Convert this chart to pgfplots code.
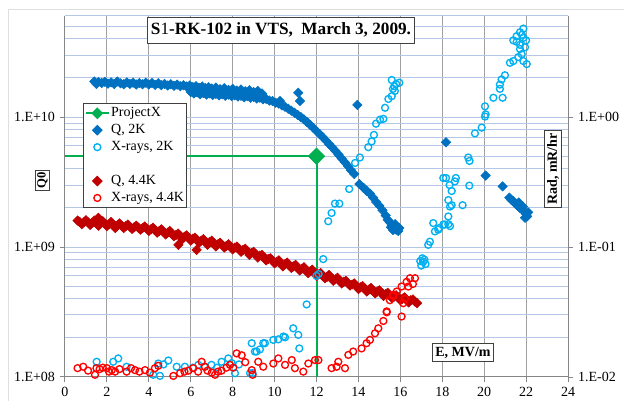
\documentclass[border=0pt]{standalone}
\usepackage{pgfplots}
\pgfplotsset{compat=1.18}
\usepackage{fontspec}
\setmainfont{Liberation Serif}
\definecolor{qtwo}{RGB}{0,112,192}
\definecolor{xtwo}{RGB}{0,176,240}
\definecolor{qfour}{RGB}{192,0,0}
\definecolor{xfour}{RGB}{255,0,0}
\definecolor{pxgreen}{RGB}{0,176,80}
\definecolor{gridblue}{RGB}{180,199,231}
\definecolor{gridgray}{RGB}{160,160,160}
\definecolor{axgray}{RGB}{134,134,134}
\definecolor{boxgray}{RGB}{64,64,64}
\tikzset{
  diam/.style={only marks, mark=square*, mark size=2.5pt, color=#1, mark options={rotate=45, fill=#1, draw=#1}},
  circ/.style={only marks, mark=o, mark size=2.6pt, color=#1, mark options={line width=1pt, draw=#1}},
}
\begin{document}
\begin{tikzpicture}
\useasboundingbox (-48.75pt,-18pt) rectangle (419.25pt,282.75pt);
\draw[gray!25, line width=0.75pt] (-42pt,-18pt) -- (-42pt,276pt) -- (419.25pt,276pt);
\begin{axis}[
  at={(0pt,0pt)}, anchor=south west, scale only axis,
  width=377.25pt, height=270.75pt,
  xmin=0, xmax=24, ymode=log,
  tick align=outside, major tick length=4pt, minor tick length=0pt,
  tick style={axgray, line width=0.75pt},
  axis line style={axgray, line width=0.75pt},
  tick label style={font=\fontsize{10.5}{12}\selectfont},
  /pgf/number format/assume math mode=true,
  ymin=1e8, ymax=6e10,
  axis x line*=bottom, axis y line*=left,
  xtick={0,2,...,24},
  ytick={1e8,1e9,1e10}, yticklabels={1.E+08,1.E+09,1.E+10},
  minor ytick={2e8,3e8,4e8,5e8,6e8,7e8,8e8,9e8,2e9,3e9,4e9,5e9,6e9,7e9,8e9,9e9,2e10,3e10,4e10,5e10,6e10},
  xmajorgrids, ymajorgrids, yminorgrids,
  x grid style={gridgray, line width=0.75pt},
  y grid style={gridblue, line width=0.75pt},
]
% ProjectX
\addplot[pxgreen, line width=1.5pt, no marks] coordinates {(0,5e9) (12,5e9) (12,1e8)};
\addplot[only marks, mark=square*, mark size=4.4pt, color=pxgreen, mark options={rotate=45, fill=pxgreen, draw=pxgreen}] coordinates {(12,5e9)};
% Q, 2K
\addplot[diam=qtwo] table {
x y
1.40 1.88e10
1.50 1.80e10
1.60 1.86e10
1.75 1.83e10
1.90 1.87e10
2.05 1.81e10
2.20 1.85e10
2.35 1.80e10
2.50 1.88e10
2.65 1.82e10
2.80 1.79e10
2.95 1.85e10
3.10 1.80e10
3.25 1.84e10
3.40 1.78e10
3.55 1.83e10
3.70 1.79e10
3.85 1.84e10
4.00 1.78e10
4.15 1.83e10
4.30 1.77e10
4.45 1.82e10
4.60 1.76e10
4.75 1.80e10
4.90 1.75e10
5.05 1.79e10
5.20 1.74e10
5.35 1.78e10
5.50 1.73e10
5.65 1.76e10
5.80 1.72e10
5.95 1.75e10
6.10 1.70e10
6.25 1.73e10
6.40 1.68e10
6.55 1.72e10
6.70 1.67e10
6.85 1.70e10
7.00 1.66e10
7.20 1.69e10
7.40 1.64e10
7.60 1.67e10
7.80 1.62e10
8.00 1.65e10
8.20 1.60e10
8.40 1.63e10
8.60 1.58e10
8.80 1.61e10
9.00 1.56e10
9.20 1.59e10
9.40 1.52e10
6.00 1.56e10
6.15 1.52e10
6.30 1.55e10
6.45 1.50e10
6.60 1.53e10
6.75 1.49e10
6.90 1.52e10
7.05 1.48e10
7.20 1.51e10
7.35 1.47e10
7.50 1.50e10
7.65 1.46e10
7.80 1.49e10
7.95 1.45e10
8.10 1.47e10
8.25 1.44e10
8.40 1.46e10
8.55 1.42e10
8.70 1.45e10
8.85 1.41e10
9.00 1.43e10
9.15 1.39e10
9.30 1.41e10
9.45 1.37e10
9.60 1.38e10
9.75 1.34e10
9.90 1.33e10
10.05 1.29e10
10.20 1.27e10
10.26 1.33e10
10.35 1.23e10
10.50 1.20e10
10.65 1.16e10
10.80 1.12e10
10.95 1.08e10
11.10 1.04e10
11.25 1.00e10
11.40 9.60e9
11.55 9.15e9
11.70 8.70e9
11.85 8.25e9
12.00 7.80e9
12.15 7.40e9
12.30 7.00e9
12.45 6.60e9
12.60 6.20e9
12.75 5.85e9
12.90 5.50e9
13.05 5.15e9
13.20 4.80e9
13.35 4.50e9
13.50 4.20e9
13.65 3.90e9
13.80 3.65e9
14.05 3.05e9
14.25 2.85e9
14.40 2.70e9
14.55 2.58e9
14.70 2.40e9
14.85 2.22e9
15.00 2.08e9
15.15 1.92e9
15.30 1.75e9
15.40 1.62e9
15.50 1.55e9
15.60 1.48e9
15.70 1.42e9
15.80 1.36e9
15.90 1.33e9
15.55 1.42e9
15.75 1.50e9
15.95 1.40e9
15.65 1.35e9
11.13 1.54e10
11.21 1.33e10
13.95 1.24e10
18.18 6.40e9
20.07 3.55e9
20.88 2.93e9
21.20 2.40e9
21.30 2.30e9
21.40 2.25e9
21.50 2.15e9
21.60 2.08e9
21.70 2.00e9
21.80 1.95e9
21.90 1.88e9
22.00 1.80e9
22.05 1.72e9
21.95 1.68e9
21.85 2.05e9
21.65 2.20e9
22.10 1.85e9
};
% Q, 4.4K
\addplot[diam=qfour] table {
x y
0.6 1.60e9
0.7 1.56e9
0.8 1.50e9
0.9 1.55e9
1.0 1.61e9
1.1 1.55e9
1.2 1.48e9
1.3 1.54e9
1.4 1.60e9
1.5 1.54e9
1.59 1.68e9
1.6 1.46e9
1.7 1.52e9
1.8 1.58e9
1.9 1.52e9
2.0 1.45e9
2.1 1.50e9
2.2 1.56e9
2.3 1.49e9
2.4 1.40e9
2.5 1.47e9
2.6 1.52e9
2.7 1.46e9
2.8 1.40e9
2.9 1.45e9
3.0 1.49e9
3.1 1.43e9
3.2 1.38e9
3.3 1.42e9
3.4 1.46e9
3.5 1.41e9
3.6 1.36e9
3.7 1.40e9
3.8 1.44e9
3.9 1.39e9
4.0 1.33e9
4.1 1.37e9
4.2 1.41e9
4.3 1.35e9
4.4 1.29e9
4.5 1.33e9
4.6 1.37e9
4.7 1.31e9
4.8 1.25e9
4.9 1.29e9
5.0 1.33e9
5.1 1.27e9
5.2 1.21e9
5.3 1.24e9
5.4 1.27e9
5.41 1.04e9
5.5 1.22e9
5.6 1.15e9
5.7 1.20e9
5.8 1.23e9
5.9 1.18e9
6.0 1.12e9
6.1 1.16e9
6.2 1.18e9
6.28 0.95e9
6.3 1.14e9
6.4 1.08e9
6.5 1.12e9
6.6 1.15e9
6.7 1.10e9
6.8 1.04e9
6.9 1.09e9
7.0 1.12e9
7.1 1.07e9
7.2 1.01e9
7.3 1.05e9
7.4 1.08e9
7.5 1.04e9
7.6 0.99e9
7.7 1.02e9
7.8 1.05e9
7.9 1.01e9
8.0 0.96e9
8.1 0.99e9
8.2 1.01e9
8.3 0.97e9
8.4 0.92e9
8.5 0.95e9
8.6 0.97e9
8.7 0.93e9
8.8 0.87e9
8.9 0.90e9
9.0 0.92e9
9.1 0.88e9
9.2 0.83e9
9.3 0.86e9
9.4 0.87e9
9.5 0.83e9
9.6 0.79e9
9.7 0.81e9
9.8 0.82e9
9.9 0.79e9
10.0 0.75e9
10.1 0.77e9
10.2 0.79e9
10.3 0.75e9
10.4 0.71e9
10.5 0.74e9
10.6 0.76e9
10.7 0.72e9
10.8 0.69e9
10.9 0.71e9
11.0 0.73e9
11.1 0.69e9
11.2 0.66e9
11.3 0.68e9
11.4 0.70e9
11.5 0.66e9
11.6 0.63e9
11.7 0.65e9
11.8 0.67e9
11.9 0.63e9
12.0 0.60e9
12.1 0.615e9
12.2 0.63e9
12.3 0.60e9
12.4 0.575e9
12.5 0.59e9
12.6 0.61e9
12.7 0.58e9
12.8 0.55e9
12.9 0.565e9
13.0 0.58e9
13.1 0.55e9
13.2 0.525e9
13.3 0.54e9
13.4 0.55e9
13.5 0.525e9
13.6 0.505e9
13.7 0.515e9
13.8 0.525e9
13.9 0.50e9
14.0 0.475e9
14.1 0.49e9
14.2 0.50e9
14.3 0.48e9
14.4 0.455e9
14.5 0.47e9
14.6 0.485e9
14.7 0.46e9
14.8 0.44e9
14.9 0.455e9
15.0 0.465e9
15.1 0.445e9
15.2 0.42e9
15.3 0.435e9
15.4 0.445e9
15.5 0.425e9
15.6 0.405e9
15.7 0.415e9
15.8 0.425e9
15.9 0.41e9
16.0 0.39e9
16.1 0.40e9
16.2 0.41e9
16.3 0.395e9
16.4 0.375e9
16.5 0.39e9
16.6 0.395e9
16.7 0.38e9
16.8 0.37e9
};
\end{axis}
\begin{axis}[
  at={(0pt,0pt)}, anchor=south west, scale only axis,
  width=377.25pt, height=270.75pt,
  xmin=0, xmax=24, ymode=log,
  tick align=outside, major tick length=4pt, minor tick length=0pt,
  tick style={axgray, line width=0.75pt},
  axis line style={axgray, line width=0.75pt},
  tick label style={font=\fontsize{10.5}{12}\selectfont},
  /pgf/number format/assume math mode=true,
  ymin=1e-2, ymax=6,
  axis x line=none, axis y line*=right,
  ytick={1e-2,1e-1,1}, yticklabels={1.E-02,1.E-01,1.E+00},
  legend style={at={(rel axis cs:0.036,0.759)}, anchor=north west,
    draw=boxgray, fill=white, line width=0.75pt,
    font=\fontsize{10.5}{12}\selectfont,
    inner sep=1pt, row sep=0pt,
    nodes={inner sep=1.1pt, text height=8pt, text depth=2.5pt}},
  legend cell align=left,
]
% X-rays, 2K
\addplot[circ=xtwo, forget plot] table {
x y
1.51 0.0131
2.30 0.0131
2.54 0.0139
2.94 0.0120
4.21 0.0104
4.45 0.0127
4.53 0.0102
4.70 0.0125
4.93 0.0134
5.33 0.0120
5.72 0.0120
6.10 0.0118
6.36 0.0124
6.65 0.0120
6.99 0.0124
7.25 0.0118
7.47 0.0131
7.79 0.0139
7.95 0.0128
8.11 0.0107
8.30 0.0125
8.83 0.0107
8.91 0.0182
8.95 0.0107
9.06 0.0157
9.14 0.0157
9.30 0.0163
9.46 0.0182
9.54 0.0182
9.94 0.0193
10.18 0.0195
10.42 0.0205
10.50 0.0202
10.89 0.0237
11.13 0.0211
11.18 0.0166
11.53 0.0362
12.00 0.0600
12.10 0.0620
12.32 0.0808
12.56 0.158
12.72 0.183
12.88 0.216
13.09 0.216
13.56 0.280
13.84 0.444
14.07 0.489
14.47 0.587
14.63 0.65
14.74 0.73
14.84 0.89
15.03 0.956
15.19 0.97
15.27 1.18
15.43 1.38
15.59 1.45
15.74 1.59
15.71 1.73
15.59 1.93
15.95 1.84
15.80 1.80
15.65 1.65
16.95 0.078
17.00 0.072
17.05 0.082
17.09 0.077
17.15 0.080
17.20 0.074
17.33 0.104
17.41 0.110
17.57 0.153
17.65 0.132
17.81 0.136
17.85 0.140
18.05 0.149
18.13 0.149
18.29 0.150
18.37 0.145
18.29 0.172
18.37 0.205
18.45 0.210
18.29 0.230
18.45 0.270
18.18 0.340
18.05 0.340
18.65 0.340
18.60 0.320
18.35 0.300
18.97 0.210
19.29 0.297
19.24 0.489
19.30 0.460
19.56 0.750
19.88 0.830
20.04 1.01
20.07 1.05
20.04 1.21
20.44 1.41
20.88 1.41
20.75 1.65
20.75 1.78
20.83 1.95
20.99 2.10
21.23 2.62
21.39 2.70
21.63 2.90
21.87 2.70
22.03 2.56
21.71 3.34
21.95 3.45
21.55 3.80
21.87 4.07
21.71 4.50
21.87 4.80
21.55 4.20
22.00 3.90
21.71 3.60
21.79 3.05
21.39 3.90
21.80 4.30
};
% X-rays, 4.4K
\addplot[circ=xfour, forget plot] table {
x y
0.60 0.0117
0.87 0.0120
1.10 0.0112
1.43 0.0104
1.50 0.0117
1.65 0.0115
1.80 0.0118
2.00 0.0117
2.10 0.0110
2.23 0.0113
2.39 0.0110
2.60 0.0115
2.94 0.0110
3.15 0.0117
3.34 0.0113
3.55 0.0110
3.82 0.0113
4.05 0.0108
4.29 0.0117
4.45 0.0122
5.17 0.0102
5.49 0.0107
5.70 0.0110
5.89 0.0112
6.12 0.0117
6.35 0.0110
6.52 0.0131
6.68 0.0120
6.80 0.0112
7.00 0.0108
7.16 0.0104
7.30 0.0110
7.47 0.0112
7.70 0.0118
7.87 0.0124
8.03 0.0118
8.19 0.0152
8.43 0.0147
8.60 0.0130
8.91 0.0113
8.95 0.0104
9.22 0.0131
9.46 0.0120
9.94 0.0127
10.18 0.0139
10.50 0.0124
10.82 0.0135
10.97 0.0117
11.37 0.0110
11.61 0.0127
11.93 0.0135
12.09 0.0135
12.72 0.0117
12.96 0.0120
13.04 0.0131
13.36 0.0117
13.52 0.0148
13.75 0.0157
14.15 0.0166
14.39 0.0182
14.55 0.0193
14.79 0.0217
14.95 0.0237
15.19 0.0270
15.35 0.0315
15.50 0.0390
15.66 0.0430
15.83 0.0455
16.06 0.0292
16.06 0.0497
16.14 0.0370
16.22 0.0400
16.30 0.0540
16.38 0.0497
16.46 0.0576
16.60 0.0520
16.70 0.0576
15.67 0.0420
15.35 0.0320
};
\addlegendimage{pxgreen, line width=1.5pt, mark=square*, mark size=2.4pt, mark options={rotate=45, fill=pxgreen, draw=pxgreen}}
\addlegendentry{ProjectX}
\addlegendimage{diam=qtwo}
\addlegendentry{Q, 2K}
\addlegendimage{circ=xtwo}
\addlegendentry{X-rays, 2K}
\addlegendimage{empty legend}
\addlegendentry{}
\addlegendimage{diam=qfour}
\addlegendentry{Q, 4.4K}
\addlegendimage{circ=xfour}
\addlegendentry{X-rays, 4.4K}
\end{axis}
\node[draw=boxgray, fill=white, line width=0.75pt, inner xsep=2.5pt, minimum height=19.5pt,
  font=\bfseries\fontsize{12.9}{15}\selectfont] at (162pt,260.25pt) {S\textmd{1}-RK-102 in VTS,\ \ March 3, 2009.};
\node[draw=boxgray, fill=white, line width=0.75pt, inner sep=1.5pt, rotate=90,
  font=\bfseries\fontsize{9.5}{11}\selectfont] at (-16.9pt,147.4pt) {Q0};
\node[draw=boxgray, fill=white, line width=0.75pt, inner sep=2pt, rotate=90,
  font=\bfseries\fontsize{10.5}{12}\selectfont] at (366pt,156pt) {Rad, mR/hr};
\node[draw=boxgray, fill=white, line width=0.75pt, inner sep=2.5pt,
  font=\bfseries\fontsize{10.5}{12}\selectfont] at (298.5pt,18.4pt) {E, MV/m};
\end{tikzpicture}
\end{document}
